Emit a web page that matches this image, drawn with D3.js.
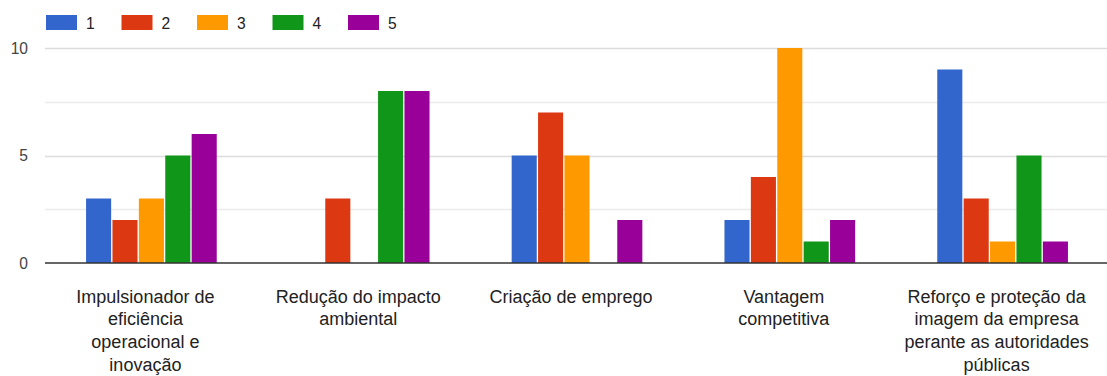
<!DOCTYPE html>
<html>
<head>
<meta charset="utf-8">
<script src="https://cdn.jsdelivr.net/npm/d3@7"></script>
<style>
  html, body { margin: 0; padding: 0; background: #fff; }
  svg { display: block; font-family: Arial, "Liberation Sans", sans-serif; }
</style>
</head>
<body>
<svg id="chart" width="1107" height="376"></svg>
<script>
// Categories (line breaks mark how each label wraps under its group)
const categories = [
  "Impulsionador de\neficiência\noperacional e\ninovação",
  "Redução do impacto\nambiental",
  "Criação de emprego",
  "Vantagem\ncompetitiva",
  "Reforço e proteção da\nimagem da empresa\nperante as autoridades\npúblicas"
];

// Rating series 1–5, one value per category
const seriesNames = ["1", "2", "3", "4", "5"];
const series1 = [3, 0, 5, 2, 9];
const series2 = [2, 3, 7, 4, 3];
const series3 = [3, 0, 5, 10, 1];
const series4 = [5, 8, 0, 1, 5];
const series5 = [6, 8, 2, 2, 1];
const seriesValues = [series1, series2, series3, series4, series5];
const seriesColors = ["#3366cc", "#dc3912", "#ff9900", "#109618", "#990099"];

const yTicks = [0, 5, 10];
const yMinorTicks = [2.5, 7.5];

const svg = d3.select("#chart");

const plot = { left: 45, right: 1109, top: 48, bottom: 263 };

const x0 = d3.scaleBand()
  .domain(d3.range(categories.length))
  .range([plot.left, plot.right])
  .padding(0);

const barStep = 26.4;
const innerPad = 0.05;
const outerPad = (x0.bandwidth() / barStep - (seriesNames.length - innerPad)) / 2;

const x1 = d3.scaleBand()
  .domain(d3.range(seriesNames.length))
  .range([0, x0.bandwidth()])
  .paddingInner(innerPad)
  .paddingOuter(outerPad);

const y = d3.scaleLinear().domain([0, 10]).range([plot.bottom, plot.top]);

// Gridlines
svg.append("g").selectAll("line.minor")
  .data(yMinorTicks)
  .join("line")
  .attr("x1", plot.left).attr("x2", 1107)
  .attr("y1", d => Math.round(y(d)) + 0.5).attr("y2", d => Math.round(y(d)) + 0.5)
  .attr("stroke", "#ebebeb").attr("stroke-width", 1.3);

svg.append("g").selectAll("line.major")
  .data(yTicks.filter(d => d !== 0))
  .join("line")
  .attr("x1", plot.left).attr("x2", 1107)
  .attr("y1", d => Math.round(y(d)) + 0.5).attr("y2", d => Math.round(y(d)) + 0.5)
  .attr("stroke", "#dcdcdc").attr("stroke-width", 1.3);

// Y axis labels
const yAxis = d3.axisLeft(y).tickValues(yTicks).tickSize(0).tickPadding(0).tickFormat(d3.format("d"));
const yAxisG = svg.append("g")
  .attr("transform", `translate(${28},0)`)
  .call(yAxis);
yAxisG.select(".domain").remove();
yAxisG.selectAll("text")
  .attr("fill", "#444")
  .style("font-size", "15.6px")
  .style("font-family", "Arial, 'Liberation Sans', sans-serif");

// Bars
const groups = svg.append("g").selectAll("g")
  .data(categories.map((c, i) => i))
  .join("g")
  .attr("transform", i => `translate(${x0(i)},0)`);

groups.selectAll("rect")
  .data(i => seriesValues.map((vals, s) => ({ s, v: vals[i] })).filter(d => d.v > 0))
  .join("rect")
  .attr("x", d => x1(d.s))
  .attr("width", x1.bandwidth())
  .attr("y", d => y(d.v))
  .attr("height", d => y(0) - y(d.v))
  .attr("fill", d => seriesColors[d.s]);

// Baseline
svg.append("line")
  .attr("x1", plot.left).attr("x2", 1107)
  .attr("y1", y(0)).attr("y2", y(0))
  .attr("stroke", "#333").attr("stroke-width", 1.5);

// Category labels
const xAxis = d3.axisBottom(x0).tickSize(0).tickPadding(0).tickFormat(() => "");
const xAxisG = svg.append("g").attr("transform", `translate(0,${plot.bottom})`).call(xAxis);
xAxisG.select(".domain").remove();
xAxisG.selectAll(".tick text").remove();
xAxisG.selectAll(".tick").each(function(i) {
  const t = d3.select(this).append("text")
    .attr("text-anchor", "middle")
    .attr("x", -6)
    .attr("fill", "#222")
    .style("font-size", "18px")
    .style("font-family", "Arial, 'Liberation Sans', sans-serif");
  categories[i].split("\n").forEach((line, k) => {
    t.append("tspan").attr("x", -6).attr("y", 39.5 + k * 22.8).text(line);
  });
});

// Legend
const legend = svg.append("g").selectAll("g")
  .data(seriesNames)
  .join("g")
  .attr("transform", (d, i) => `translate(${46 + i * 75.5},15)`);
legend.append("rect")
  .attr("width", 31).attr("height", 15)
  .attr("fill", (d, i) => seriesColors[i]);
legend.append("text")
  .attr("x", 40).attr("y", 14)
  .attr("fill", "#222")
  .style("font-size", "15.6px")
  .text(d => d);
</script>
</body>
</html>
